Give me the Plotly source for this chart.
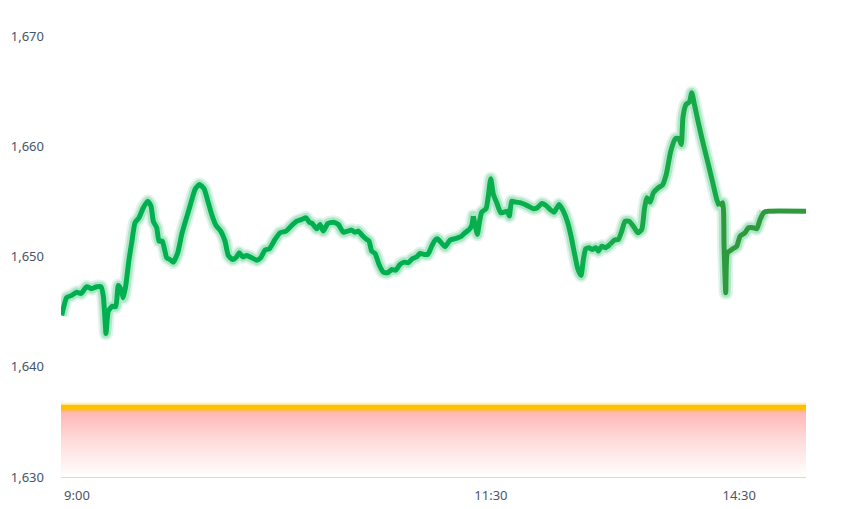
import plotly.graph_objects as go

# trading minutes since 9:00 (lunch break removed) and price
minutes = [0.25, 2.07, 3.88, 5.69, 7.25, 9.31, 11.13, 12.94, 14.50, 15.33, 15.95, 16.31, 17.14, 18.59,
           19.83, 20.77, 21.75, 22.58, 23.45, 24.65, 25.62, 26.82, 28.27, 29.83, 31.42, 32.62, 33.46,
           34.69, 35.52, 36.72, 38.31, 39.51, 40.70, 42.30, 43.75, 44.94,
           46.76, 48.57, 50.13, 51.83, 53.39, 54.62, 56.18, 57.88, 59.44, 60.64, 62.23, 63.68, 64.62,
           65.86, 67.31, 69.12, 70.93, 72.38, 73.94, 75.50, 77.56, 79.38, 81.55, 83.62, 85.43, 87.24,
           88.80, 90.00,
           91.08, 92.68, 93.87, 95.07, 96.67, 98.70, 100.51, 102.32, 103.91, 105.36, 106.56, 107.76,
           109.21, 110.80, 111.64, 112.61, 113.81, 115.26, 116.82, 118.41, 119.86, 121.31, 122.87,
           124.43, 125.88, 127.33, 128.92, 130.12, 131.68, 132.91, 134.36, 135.56,
           136.39, 137.62, 139.18, 140.99, 142.81, 144.87, 146.43, 147.99, 148.86, 149.44, 150.05,
           150.89, 151.61, 152.48, 154.04, 154.87, 155.74, 156.69, 157.92, 159.37, 160.57, 161.76,
           162.49, 163.36, 164.91, 166.62, 168.18, 169.74, 171.18, 172.63, 174.23, 175.79, 177.24,
           178.69, 180.50,
           182.06, 183.65, 184.85, 186.05, 187.28, 188.47, 189.31, 190.18, 191.37, 192.57, 193.80,
           194.75, 195.98, 197.43, 198.99, 200.54, 201.99, 203.23, 204.42, 205.87, 207.43, 209.02,
           210.47, 211.42, 212.29, 213.48, 214.68, 216.49, 218.01, 219.36, 220.99, 222.66, 223.89,
           224.80, 225.41, 226.53, 227.73, 228.60, 229.43, 230.99, 232.80, 234.61, 236.21, 237.66,
           238.60, 239.83, 240.30, 240.92, 241.50, 243.10, 244.91, 246.10, 247.92, 249.11, 250.92,
           252.16, 253.35, 254.80, 256.36, 270.00]
price = [1644.67, 1646.30, 1646.49, 1646.78, 1646.67, 1647.28, 1647.09, 1647.28, 1647.28, 1646.42,
         1644.31, 1643.03, 1645.06, 1645.51, 1645.46, 1647.39, 1647.03, 1646.28, 1647.33, 1649.75,
         1651.27, 1653.09, 1653.54, 1654.45, 1655.05, 1654.60, 1653.23, 1652.63, 1651.42, 1651.42,
         1649.91, 1649.75, 1649.51, 1650.36, 1652.03, 1653.09,
         1654.60, 1656.11, 1656.57, 1656.18, 1654.90, 1653.84, 1652.84, 1652.33, 1651.42, 1650.12,
         1649.75, 1650.00, 1650.36, 1650.00, 1650.12, 1649.91, 1649.69, 1649.91, 1650.60, 1650.73,
         1651.57, 1652.18, 1652.33, 1652.84, 1653.23, 1653.39, 1653.54, 1653.14,
         1653.02, 1652.54, 1652.93, 1652.33, 1653.02, 1653.14, 1652.93, 1652.23, 1652.33, 1652.42,
         1652.23, 1652.33, 1651.93, 1651.57, 1651.42, 1650.51, 1650.30, 1649.30, 1648.60, 1648.55,
         1648.85, 1648.78, 1649.30, 1649.51, 1649.46, 1649.82, 1650.00, 1650.30, 1650.21, 1650.21,
         1650.96, 1651.51,
         1651.64, 1651.33, 1650.91, 1651.51, 1651.64, 1651.82, 1652.18, 1652.48, 1652.84, 1653.69,
         1652.93, 1652.03, 1653.09, 1654.05, 1654.36, 1655.50, 1657.08, 1655.66, 1654.90, 1654.00,
         1654.05, 1654.14, 1653.69, 1655.05, 1654.96, 1654.90, 1654.75, 1654.54, 1654.36, 1654.45,
         1654.84, 1654.66, 1654.30, 1654.05, 1654.75,
         1654.14, 1653.09, 1651.87, 1650.36, 1648.91, 1648.30, 1649.75, 1650.73, 1650.82, 1650.66,
         1650.82, 1650.51, 1650.96, 1650.82, 1651.12, 1651.51, 1651.57, 1652.33, 1653.23, 1653.23,
         1652.78, 1652.18, 1652.48, 1654.30, 1655.36, 1654.96, 1655.81, 1656.27, 1656.52, 1657.48,
         1659.59, 1660.72, 1660.74, 1660.20, 1662.65, 1663.83, 1664.04, 1664.90, 1663.99, 1662.17,
         1660.20, 1658.38, 1656.72, 1655.20, 1654.60, 1654.90, 1650.96, 1646.73, 1650.36, 1650.66,
         1650.96, 1651.87, 1652.18, 1652.63, 1652.63, 1652.54, 1653.39, 1654.05, 1654.14, 1654.14]

threshold = 1636.3
session_range = [0, 270]
tick_minutes = [0, 150, 240]
tick_labels = ["9:00", "11:30", "14:30"]
y_ticks = [1630, 1640, 1650, 1660, 1670]

# colour segments along the line (start minute, colour)
segments = [(0, "#00B050"), (150, "#0AAE4C"), (200, "#16A948"), (239.8, "#2F9A3D")]

fig = go.Figure()

# gradient area under threshold
fig.add_trace(go.Scatter(x=session_range, y=[y_ticks[0]] * 2, mode="lines",
                         line=dict(width=0, color="rgba(0,0,0,0)"), hoverinfo="skip", showlegend=False))
fig.add_trace(go.Scatter(x=session_range, y=[threshold] * 2, mode="lines", fill="tonexty",
                         fillgradient=dict(type="vertical",
                                           colorscale=[[0, "rgba(255,255,255,1)"], [0.55, "#FFD9D9"], [1, "#FFB0B0"]],
                                           start=y_ticks[0], stop=threshold),
                         line=dict(width=0, color="rgba(0,0,0,0)"), hoverinfo="skip", showlegend=False))
# threshold line with glow
fig.add_trace(go.Scatter(x=session_range, y=[threshold] * 2, mode="lines",
                         line=dict(width=10, color="rgba(255,192,0,0.25)"), hoverinfo="skip", showlegend=False))
fig.add_trace(go.Scatter(x=session_range, y=[threshold] * 2, mode="lines",
                         line=dict(width=5.5, color="#FFC000"), hoverinfo="skip", showlegend=False))

smooth = dict(shape="spline", smoothing=0.5)

# glow under the price line
glow_x = [m for m in minutes if m < 255]
glow_y = [p for m, p in zip(minutes, price) if m < 255]
fig.add_trace(go.Scatter(x=glow_x, y=glow_y, mode="lines",
                         line=dict(width=14, color="rgba(0,176,80,0.12)", **smooth),
                         hoverinfo="skip", showlegend=False))
fig.add_trace(go.Scatter(x=glow_x, y=glow_y, mode="lines",
                         line=dict(width=10, color="rgba(0,176,80,0.22)", **smooth),
                         hoverinfo="skip", showlegend=False))

# coloured line segments
for i, (start, color) in enumerate(segments):
    end = segments[i + 1][0] if i + 1 < len(segments) else 1e9
    idx = [k for k, m in enumerate(minutes) if start <= m < end]
    if i > 0 and idx and idx[0] > 0:
        idx = [idx[0] - 1] + idx
    fig.add_trace(go.Scatter(x=[minutes[k] for k in idx], y=[price[k] for k in idx], mode="lines",
                             line=dict(width=5, color=color, **smooth), showlegend=False))

# the page body has an 8px default margin, so the figure is sized to fit the window
fig.update_layout(
    width=847, height=501,
    margin=dict(l=53, r=49, t=12, b=32, autoexpand=False),
    paper_bgcolor="white", plot_bgcolor="white",
    font=dict(family="Noto Sans, Open Sans, sans-serif", size=13, color="#44546A"),
    xaxis=dict(range=session_range, tickvals=tick_minutes, ticktext=tick_labels, automargin=False,
               showgrid=False, zeroline=False, showline=True, linecolor="#D9D9D9", linewidth=1,
               ticks="", ticklabelshift=16, ticklabelstandoff=6,
               tickfont=dict(color="#4D5566", size=13)),
    yaxis=dict(range=[1630, 1671.5], tickvals=y_ticks, tickformat=",d", automargin=False,
               showgrid=False, zeroline=False, showline=False, ticks="",
               ticklabelstandoff=16, tickfont=dict(color="#44546A", size=13)),
    showlegend=False,
)

fig.write_html("out.html")
